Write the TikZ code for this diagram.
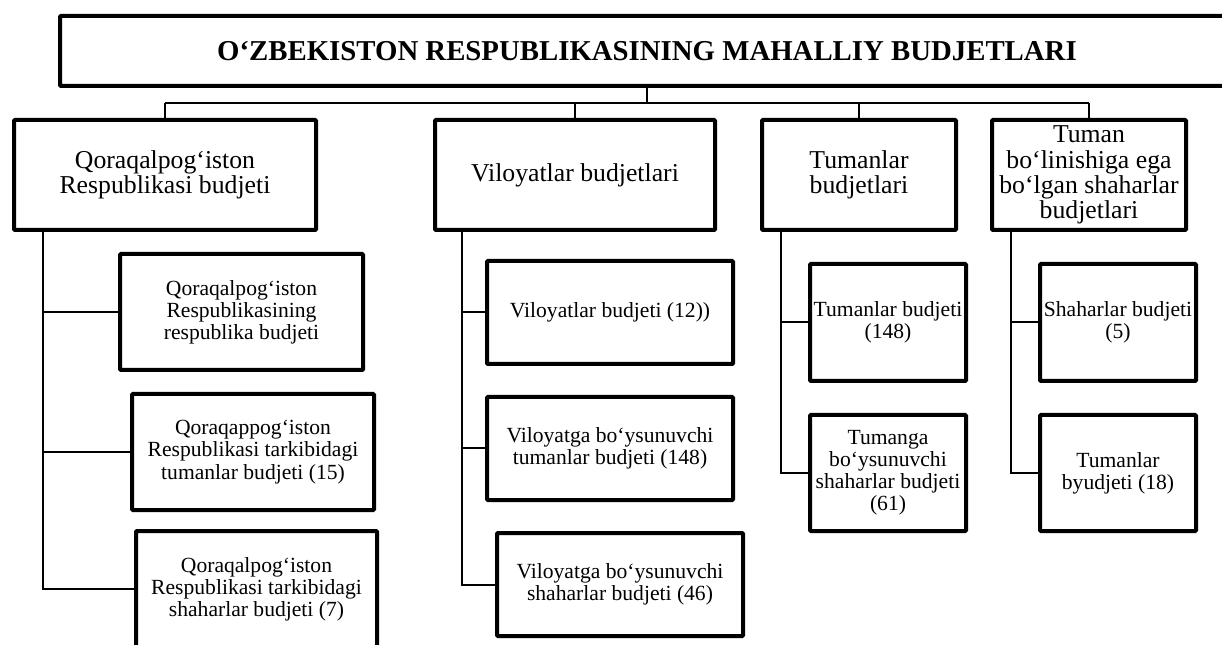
\documentclass[tikz,border=0pt]{standalone}
\usepackage{fontspec}
\setmainfont{Liberation Serif}
\usetikzlibrary{shadows}

\begin{document}
\begin{tikzpicture}[x=0.75pt,y=-0.75pt,
    box/.style={draw, line width=3pt, fill=white, align=center, inner sep=1pt, rounded corners=0.8pt,
      drop shadow={shadow xshift=1.2pt, shadow yshift=-1.2pt, opacity=0.25, fill=black}},
    boxsize/.style 2 args={minimum width=#1*0.75pt, minimum height=#2*0.75pt},
    top/.style={box, font=\fontsize{21.6}{25}\selectfont\bfseries},
    head/.style={box, font=\fontsize{19.3}{19}\selectfont},
    leaf/.style={box, font=\fontsize{16.2}{16.6}\selectfont},
    link/.style={line width=1.5pt}]

    \useasboundingbox (0,0) rectangle (1222,645);
    \clip (0,0) rectangle (1222,645);

    \node[top, boxsize={1174}{70}] (title) at (647,51) {O‘ZBEKISTON RESPUBLIKASINING MAHALLIY BUDJETLARI};

    \node[head, boxsize={302}{110}] (qr) at (165,175) {Qoraqalpog‘iston\\Respublikasi budjeti};
    \node[head, boxsize={280}{110}] (vil) at (575,175) {Viloyatlar budjetlari};
    \node[head, boxsize={194}{110}] (tum) at (859,175) {Tumanlar\\budjetlari};
    \node[head, boxsize={194}{110}] (shb) at (1089,175) {Tuman\\bo‘linishiga ega\\bo‘lgan shaharlar\\budjetlari};

    \node[leaf, boxsize={243}{116}] (qr1) at (241.5,312) {Qoraqalpog‘iston\\Respublikasining\\respublika budjeti};
    \node[leaf, boxsize={242}{116}] (qr2) at (253,452) {Qoraqappog‘iston\\Respublikasi tarkibidagi\\tumanlar budjeti (15)};
    \node[leaf, boxsize={241}{116}] (qr3) at (256.5,589) {Qoraqalpog‘iston\\Respublikasi tarkibidagi\\shaharlar budjeti (7)};

    \node[leaf, boxsize={246}{103}] (vil1) at (610,312.5) {Viloyatlar budjeti (12))};
    \node[leaf, boxsize={246}{103}] (vil2) at (610,448.5) {Viloyatga bo‘ysunuvchi\\tumanlar budjeti (148)};
    \node[leaf, boxsize={246}{103}] (vil3) at (620,584.5) {Viloyatga bo‘ysunuvchi\\shaharlar budjeti (46)};

    \node[leaf, boxsize={156}{117}] (tum1) at (888,322.5) {Tumanlar budjeti\\(148)};
    \node[leaf, boxsize={156}{116}] (tum2) at (888,473) {Tumanga\\bo‘ysunuvchi\\shaharlar budjeti\\(61)};

    \node[leaf, boxsize={156}{117}] (shb1) at (1118,322.5) {Shaharlar budjeti\\(5)};
    \node[leaf, boxsize={156}{116}] (shb2) at (1118,473) {Tumanlar\\byudjeti (18)};

    % bus under the title
    \coordinate (bus) at (165,103);
    \draw[link] (title.south) -- (title.south |- bus);
    \draw[link] (qr.north |- bus) -- (shb.north |- bus);
    \foreach \n in {qr,vil,tum,shb}
        \draw[link] (\n.north |- bus) -- (\n.north);

    % trunks
    \draw[link] (qr.south west) ++(31,0) coordinate (qrT) |- (qr3.west);
    \foreach \c in {qr1,qr2}
        \draw[link] (qrT |- \c.west) -- (\c.west);
    \draw[link] (vil.south west) ++(29,0) coordinate (vilT) |- (vil3.west);
    \foreach \c in {vil1,vil2}
        \draw[link] (vilT |- \c.west) -- (\c.west);
    \draw[link] (tum.south west) ++(21,0) coordinate (tumT) |- (tum2.west);
    \draw[link] (tumT |- tum1.west) -- (tum1.west);
    \draw[link] (shb.south west) ++(21,0) coordinate (shbT) |- (shb2.west);
    \draw[link] (shbT |- shb1.west) -- (shb1.west);
\end{tikzpicture}
\end{document}
